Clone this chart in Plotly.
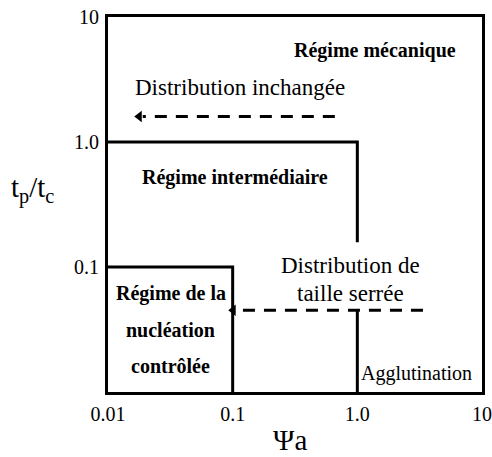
import plotly.graph_objects as go

# Axis ticks
x_tickvals = [0.01, 0.1, 1, 10]
x_ticktext = ["0.01", "0.1", "1.0", "10"]
y_tickvals = [0.1, 1, 10]
y_ticktext = ["0.1", "1.0", "10"]

# Region boundaries
inter_x = [0.01, 1, 1]
inter_y = [1, 1, 0.158]
agg_x = [1, 1]
agg_y = [0.045, 0.01]
nucl_x = [0.01, 0.1, 0.1]
nucl_y = [0.1, 0.1, 0.01]

# Dashed arrows
arrow1_x = [0.66, 0.019]
arrow1_y = [1.6, 1.6]
head1_x = [0.0178]
head1_y = [1.6]
arrow2_x = [3.36, 0.105]
arrow2_y = [0.045, 0.045]
head2_x = [0.101]
head2_y = [0.045]

FONT = "Liberation Serif, Times New Roman, serif"

fig = go.Figure()
solid = dict(color="black", width=3)
dashed = dict(color="black", width=3, dash="12px,9px")
for xs, ys in [(inter_x, inter_y), (agg_x, agg_y), (nucl_x, nucl_y)]:
    fig.add_trace(go.Scatter(x=xs, y=ys, mode="lines", line=solid,
                             hoverinfo="skip", showlegend=False))
for xs, ys in [(arrow1_x, arrow1_y), (arrow2_x, arrow2_y)]:
    fig.add_trace(go.Scatter(x=xs, y=ys, mode="lines", line=dashed,
                             hoverinfo="skip", showlegend=False))
for xs, ys in [(head1_x, head1_y), (head2_x, head2_y)]:
    fig.add_trace(go.Scatter(x=xs, y=ys, mode="markers",
                             marker=dict(symbol="triangle-left", size=10, color="black"),
                             hoverinfo="skip", showlegend=False))

def label(text, lx, ly, size, bold=False):
    if bold:
        text = "<b>" + text + "</b>"
    fig.add_annotation(x=lx, y=ly, xref="x", yref="y", text=text, showarrow=False,
                       font=dict(family=FONT, size=size, color="black"),
                       xanchor="center", yanchor="middle")

label("Régime mécanique", 0.141, 0.736, 20, True)
label("Distribution inchangée", -0.941, 0.44, 23)
label("Régime intermédiaire", -0.982, -0.28, 20, True)
label("Distribution de", -0.051, -0.984, 23)
label("taille serrée", -0.051, -1.208, 23)
label("Régime de la", -1.495, -1.208, 20, True)
label("nucléation", -1.495, -1.504, 20, True)
label("contrôlée", -1.495, -1.792, 20, True)
label("Agglutination", 0.478, -1.848, 20)

fig.add_annotation(x=0.487, y=-0.129, xref="paper", yref="paper", text="Ψa",
                   showarrow=False, font=dict(family=FONT, size=29, color="black"),
                   xanchor="center", yanchor="middle")
fig.add_annotation(x=-0.203, y=0.539, xref="paper", yref="paper",
                   text="t<sub>p</sub>/t<sub>c</sub>",
                   showarrow=False, font=dict(family=FONT, size=29, color="black"),
                   xanchor="center", yanchor="middle")

axis_common = dict(showline=True, linecolor="black", linewidth=3, mirror=True,
                   showgrid=False, zeroline=False, ticks="", automargin=False,
                   tickfont=dict(family=FONT, size=20, color="black"))
fig.update_xaxes(type="log", range=[-2, 1], tickvals=x_tickvals, ticktext=x_ticktext,
                 ticklabelstandoff=2, **axis_common)
fig.update_yaxes(type="log", range=[-2, 1], tickvals=y_tickvals, ticktext=y_ticktext,
                 ticklabelstandoff=2, **axis_common)

fig.update_layout(width=492, height=457, margin=dict(l=108, r=10, t=17, b=65),
                  plot_bgcolor="white", paper_bgcolor="white", showlegend=False)

fig.write_html("out.html", config={"displayModeBar": False},
               post_script="document.body.style.margin='0';")
